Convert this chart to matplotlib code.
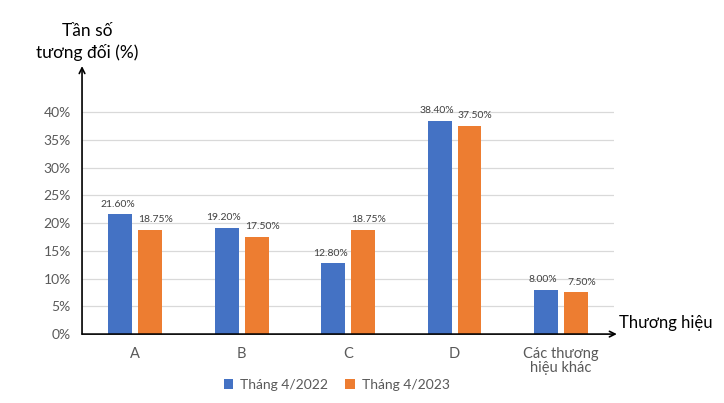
import matplotlib.pyplot as plt
import numpy as np

plt.rcParams['font.family'] = ['Lato', 'DejaVu Sans']

categories = ['A', 'B', 'C', 'D', 'Các thương\nhiệu khác']
thang_2022 = [21.60, 19.20, 12.80, 38.40, 8.00]
thang_2023 = [18.75, 17.50, 18.75, 37.50, 7.50]
series_names = ['Tháng 4/2022', 'Tháng 4/2023']
yticks = [0, 5, 10, 15, 20, 25, 30, 35, 40]

fig = plt.figure(figsize=(7.24, 4.03), dpi=100)
ax = fig.add_axes([0.1133, 0.171, 0.735, 0.665])

x = np.arange(len(categories))
w = 0.225
gap = 0.028
b1 = ax.bar(x - w/2 - gap, thang_2022, w, color='#4472C4', label=series_names[0], zorder=3)
b2 = ax.bar(x + w/2 + gap, thang_2023, w, color='#ED7D31', label=series_names[1], zorder=3)

# labels slightly nudged apart like the original
for bars, vals, dx in ((b1, thang_2022, -2), (b2, thang_2023, 4)):
    for r, v in zip(bars, vals):
        ax.annotate('%.2f%%' % v, xy=(r.get_x() + r.get_width()/2, v),
                    xytext=(dx, 4), textcoords='offset points',
                    ha='center', va='bottom', fontsize=7.5, color='#404040')

ax.set_xlim(-0.5, len(categories) - 0.5)
ax.set_ylim(0, 48.3)
ax.set_yticks(yticks)
ax.set_yticklabels(['%d%%' % t for t in yticks], fontsize=10, color='#595959')
ax.set_xticks(x)
ax.set_xticklabels(categories, fontsize=10.5, color='#595959', linespacing=1.0)
ax.tick_params(length=0, pad=8)
ax.tick_params(axis='x', pad=9)

# gridlines only up to 40%
for t in yticks[1:]:
    ax.axhline(t, color='#D9D9D9', linewidth=0.9, zorder=0)

for s in ax.spines.values():
    s.set_visible(False)

# axis arrows
ax.annotate('', xy=(0, 1), xycoords='axes fraction', xytext=(0, 0),
            arrowprops=dict(arrowstyle='->', color='black', lw=1.2, shrinkA=0, shrinkB=0))
ax.annotate('', xy=(1.005, 0), xycoords='axes fraction', xytext=(0, 0),
            arrowprops=dict(arrowstyle='->', color='black', lw=1.2, shrinkA=0, shrinkB=0))

fig.text(0.12, 0.895, 'Tần số\ntương đối (%)', ha='center', va='center',
         fontsize=12.5, color='black', linespacing=1.35)
fig.text(0.855, 0.198, 'Thương hiệu', ha='left', va='center', fontsize=12, color='black')

fig.legend(handles=[b1, b2], loc='center', bbox_to_anchor=(0.465, 0.045), ncol=2,
           frameon=False, fontsize=10, handlelength=0.7, handleheight=0.7,
           columnspacing=1.2, handletextpad=0.5, labelcolor='#595959')

fig.savefig('out.png', dpi=100)
